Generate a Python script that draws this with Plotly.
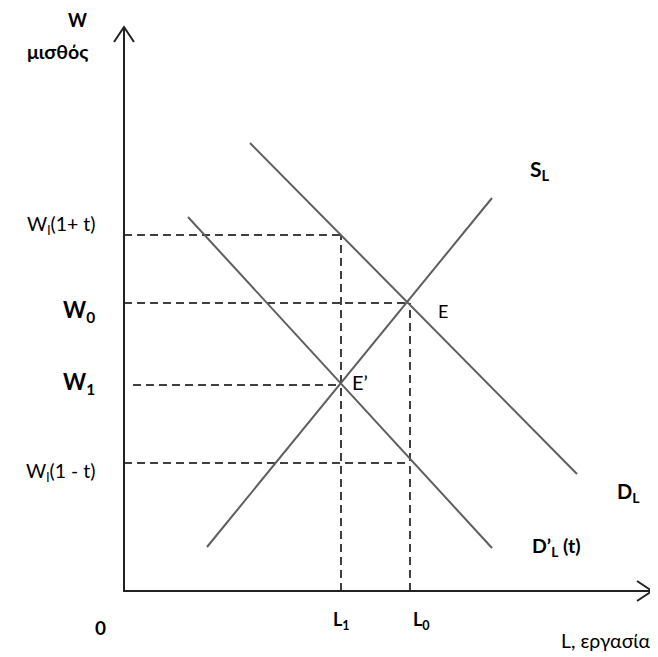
import plotly.graph_objects as go

# ---- data (labour L on x, wage W on y; origin at 0,0) ----
SL_L = [83, 368]          # supply S_L
SL_W = [44, 393]
DL_L = [126, 453]         # demand D_L
DL_W = [448, 117]
DLt_L = [64, 368]         # demand after tax D'_L(t)
DLt_W = [374, 43]

L_vals = [217, 286]                       # L1, L0
L_labels = ["<b>L<sub>1</sub></b>", "<b>L<sub>0</sub></b>"]
W_vals = [356, 288, 206, 128]             # Wl(1+t), W0, W1, Wl(1-t)
W_labels = ["W<sub>l</sub>(1+ t)", "<b>W<sub>0</sub></b>", "<b>W<sub>1</sub></b>", "W<sub>l</sub>(1 - t)"]
W_dash_start = [0, 0, 9, 0]
W_dash_end = [217, 286, 217, 286]
W_label_y = [366, 280, 208, 119]
W_label_size = [19.5, 22, 22, 19.5]

X_MAX = 528
Y_MAX = 564

fig = go.Figure()

solid = dict(color="#5e5e5e", width=2)
dash = dict(color="black", width=1.5, dash="8px,5px")
axis = dict(color="#222222", width=2)

# horizontal dashed guides
for y0, xs, xe in zip(W_vals, W_dash_start, W_dash_end):
    fig.add_trace(go.Scatter(x=[xs, xe], y=[y0, y0], mode="lines", line=dash, hoverinfo="skip"))
# vertical dashed guides
for xv, ytop in zip(L_vals, [W_vals[0], W_vals[1]]):
    fig.add_trace(go.Scatter(x=[xv, xv], y=[0, ytop], mode="lines", line=dash, hoverinfo="skip"))

# curves
for xs, ys in [(SL_L, SL_W), (DL_L, DL_W), (DLt_L, DLt_W)]:
    fig.add_trace(go.Scatter(x=xs, y=ys, mode="lines", line=solid, hoverinfo="skip"))

# axes with open arrow heads
fig.add_trace(go.Scatter(x=[0, 0, X_MAX], y=[Y_MAX, 0, 0], mode="lines", line=axis, hoverinfo="skip"))
fig.add_trace(go.Scatter(x=[-10, 0, 10], y=[Y_MAX - 15, Y_MAX, Y_MAX - 15], mode="lines", line=axis, hoverinfo="skip"))
fig.add_trace(go.Scatter(x=[X_MAX - 15, X_MAX, X_MAX - 15], y=[10, 0, -10], mode="lines", line=axis, hoverinfo="skip"))

FONT = "Lato"
ann = []
def t(x, y, text, size=18, xa="center", ya="middle"):
    ann.append(dict(x=x, y=y, text=text, showarrow=False, xanchor=xa, yanchor=ya,
                    font=dict(family=FONT, size=size, color="black")))

t(-47, 571, "<b>W</b>", 18)
t(-67, 540, "<b>μισθός</b>", 19.5)
for lab, ly, sz in zip(W_labels, W_label_y, W_label_size):
    t(-27, ly, lab, sz, xa="right")
t(312, 280, "E", 18, xa="left")
t(226, 209, "E’", 20, xa="left")
t(404, 421, "<b>S<sub>L</sub></b>", 21, xa="left")
t(491, 99, "<b>D<sub>L</sub></b>", 20, xa="left")
t(406, 44, "<b>D’<sub>L</sub> (t)</b>", 19.5, xa="left")
t(L_vals[0], -29, L_labels[0], 18)
t(L_vals[1] + 1, -29, L_labels[1], 18, xa="left")
t(-24, -36, "<b>0</b>", 19)
t(481, -49, "L, εργασία", 19.5)

# page body has an 8px margin: shrink figure by 8px and shift ranges so
# data pixel positions land where they are in the reference
fig.update_layout(
    width=650, height=649, autosize=False,
    margin=dict(l=0, r=0, t=0, b=0),
    paper_bgcolor="white", plot_bgcolor="white",
    showlegend=False,
    xaxis=dict(range=[-116, 534], visible=False, fixedrange=True),
    yaxis=dict(range=[-66, 583], visible=False, fixedrange=True),
    annotations=ann,
)

fig.write_html("out.html")
